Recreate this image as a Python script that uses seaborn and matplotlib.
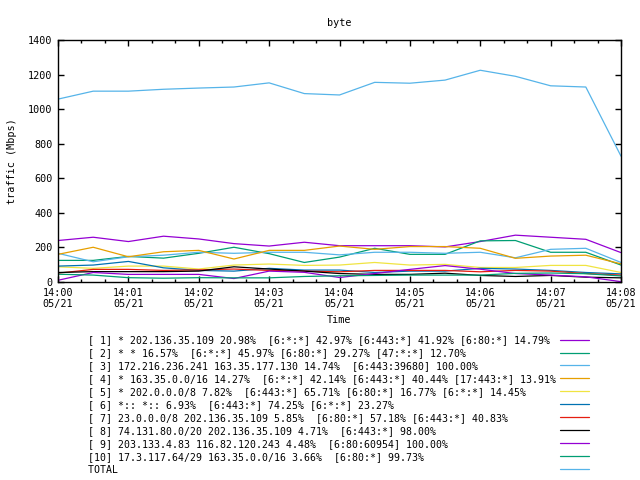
import pandas as pd
import numpy as np
import matplotlib
matplotlib.use("Agg")
import matplotlib.pyplot as plt
import matplotlib.dates as mdates
import seaborn as sns

# data (Mbps), one sample every 30 s
times = ["14:00:00", "14:00:30", "14:01:00", "14:01:30", "14:02:00", "14:02:30",
         "14:03:00", "14:03:30", "14:04:00", "14:04:30", "14:05:00", "14:05:30",
         "14:06:00", "14:06:30", "14:07:00", "14:07:30", "14:08:00"]

s1 = [240, 259, 234, 265, 249, 222, 208, 230, 210, 210, 210, 203, 234, 271, 259, 247, 170]
s2 = [125, 125, 148, 138, 166, 201, 164, 113, 144, 195, 160, 160, 238, 240, 172, 172, 98]
s3 = [166, 117, 146, 155, 172, 166, 172, 172, 157, 172, 172, 166, 172, 140, 189, 195, 113]
s4 = [160, 201, 146, 175, 183, 133, 183, 183, 208, 189, 205, 205, 195, 137, 150, 155, 105]
s5 = [88, 79, 92, 92, 75, 98, 104, 96, 98, 113, 98, 102, 84, 84, 96, 96, 55]
s6 = [92, 98, 119, 82, 67, 63, 79, 69, 69, 55, 63, 63, 79, 75, 67, 55, 47]
s7 = [51, 73, 73, 67, 70, 75, 67, 63, 59, 67, 67, 67, 59, 67, 63, 49, 40]
s8 = [55, 60, 60, 60, 63, 88, 75, 63, 49, 44, 44, 51, 38, 32, 38, 28, 24]
s9 = [10, 55, 44, 44, 44, 20, 63, 56, 26, 49, 73, 95, 74, 49, 40, 30, 2]
s10 = [45, 40, 25, 22, 25, 24, 24, 32, 36, 38, 40, 40, 40, 50, 52, 48, 35]
total = [1058, 1104, 1104, 1115, 1122, 1128, 1152, 1090, 1082, 1155, 1150, 1168, 1225, 1190, 1135, 1128, 728]

labels = [
    "[ 1] * 202.136.35.109 20.98%  [6:*:*] 42.97% [6:443:*] 41.92% [6:80:*] 14.79%",
    "[ 2] * * 16.57%  [6:*:*] 45.97% [6:80:*] 29.27% [47:*:*] 12.70%",
    "[ 3] 172.216.236.241 163.35.177.130 14.74%  [6:443:39680] 100.00%",
    "[ 4] * 163.35.0.0/16 14.27%  [6:*:*] 42.14% [6:443:*] 40.44% [17:443:*] 13.91%",
    "[ 5] * 202.0.0.0/8 7.82%  [6:443:*] 65.71% [6:80:*] 16.77% [6:*:*] 14.45%",
    "[ 6] *:: *:: 6.93%  [6:443:*] 74.25% [6:*:*] 23.27%",
    "[ 7] 23.0.0.0/8 202.136.35.109 5.85%  [6:80:*] 57.18% [6:443:*] 40.83%",
    "[ 8] 74.131.80.0/20 202.136.35.109 4.71%  [6:443:*] 98.00%",
    "[ 9] 203.133.4.83 116.82.120.243 4.48%  [6:80:60954] 100.00%",
    "[10] 17.3.117.64/29 163.35.0.0/16 3.66%  [6:80:*] 99.73%",
    "TOTAL",
]

colors = ["#9400d3", "#009e73", "#56b4e9", "#e69f00", "#f0e442",
          "#0072b2", "#e51e10", "#000000", "#9400d3", "#009e73", "#56b4e9"]

series = [s1, s2, s3, s4, s5, s6, s7, s8, s9, s10, total]

rows = []
for lab, vals in zip(labels, series):
    for t, v in zip(times, vals):
        rows.append({"time": pd.Timestamp("2014-05-21 " + t), "series": lab, "value": v})
df = pd.DataFrame(rows)

sns.set_style("ticks")
plt.rcParams["font.family"] = ["DejaVu Sans Mono"]
plt.rcParams["font.size"] = 7.3
plt.rcParams["text.color"] = "black"
plt.rcParams["axes.labelcolor"] = "black"

fig = plt.figure(figsize=(6.4, 4.8), dpi=100)
ax = fig.add_axes([58 / 640, 1 - 282 / 480, (621 - 58) / 640, (282 - 40) / 480])

sns.lineplot(data=df, x="time", y="value", hue="series", hue_order=labels,
             palette=colors, linewidth=0.9, legend=False, ax=ax)

ax.set_xlim(pd.Timestamp("2014-05-21 14:00:00"), pd.Timestamp("2014-05-21 14:08:00"))
ax.set_ylim(0, 1400)
ax.set_yticks(range(0, 1401, 200))
ax.xaxis.set_major_locator(mdates.MinuteLocator())
ax.xaxis.set_minor_locator(mdates.SecondLocator(bysecond=[20, 40]))
ax.xaxis.set_major_formatter(mdates.DateFormatter("%H:%M\n%m/%d"))
ax.tick_params(which="both", direction="in", top=True, right=True, colors="black",
               labelcolor="black", labelsize=7.3)
ax.tick_params(which="major", length=4, width=1, pad=4)
ax.tick_params(which="minor", length=2.2, width=1)
for sp in ax.spines.values():
    sp.set_visible(True)
    sp.set_linewidth(1)
    sp.set_color("black")

ax.set_title("byte", fontsize=7.3, pad=10, color="black")
ax.set_xlabel("Time", fontsize=7.3, labelpad=4)
ax.set_ylabel("traffic (Mbps)", fontsize=7.3, labelpad=8)

# gnuplot-style key: text left aligned, sample line on the right
width = max(len(l) for l in labels)
padded = [l.ljust(width) for l in labels]
handles = ax.get_lines()[:len(labels)]
leg = fig.legend(handles, padded, loc="upper left", bbox_to_anchor=(88 / 640, 1 - 335 / 480),
                 frameon=False, markerfirst=False, fontsize=7.1, handlelength=2.9,
                 handletextpad=0.45, labelspacing=0.30, borderpad=0, borderaxespad=0)
for txt in leg.get_texts():
    txt.set_color("black")

fig.savefig("out.png", dpi=100)
